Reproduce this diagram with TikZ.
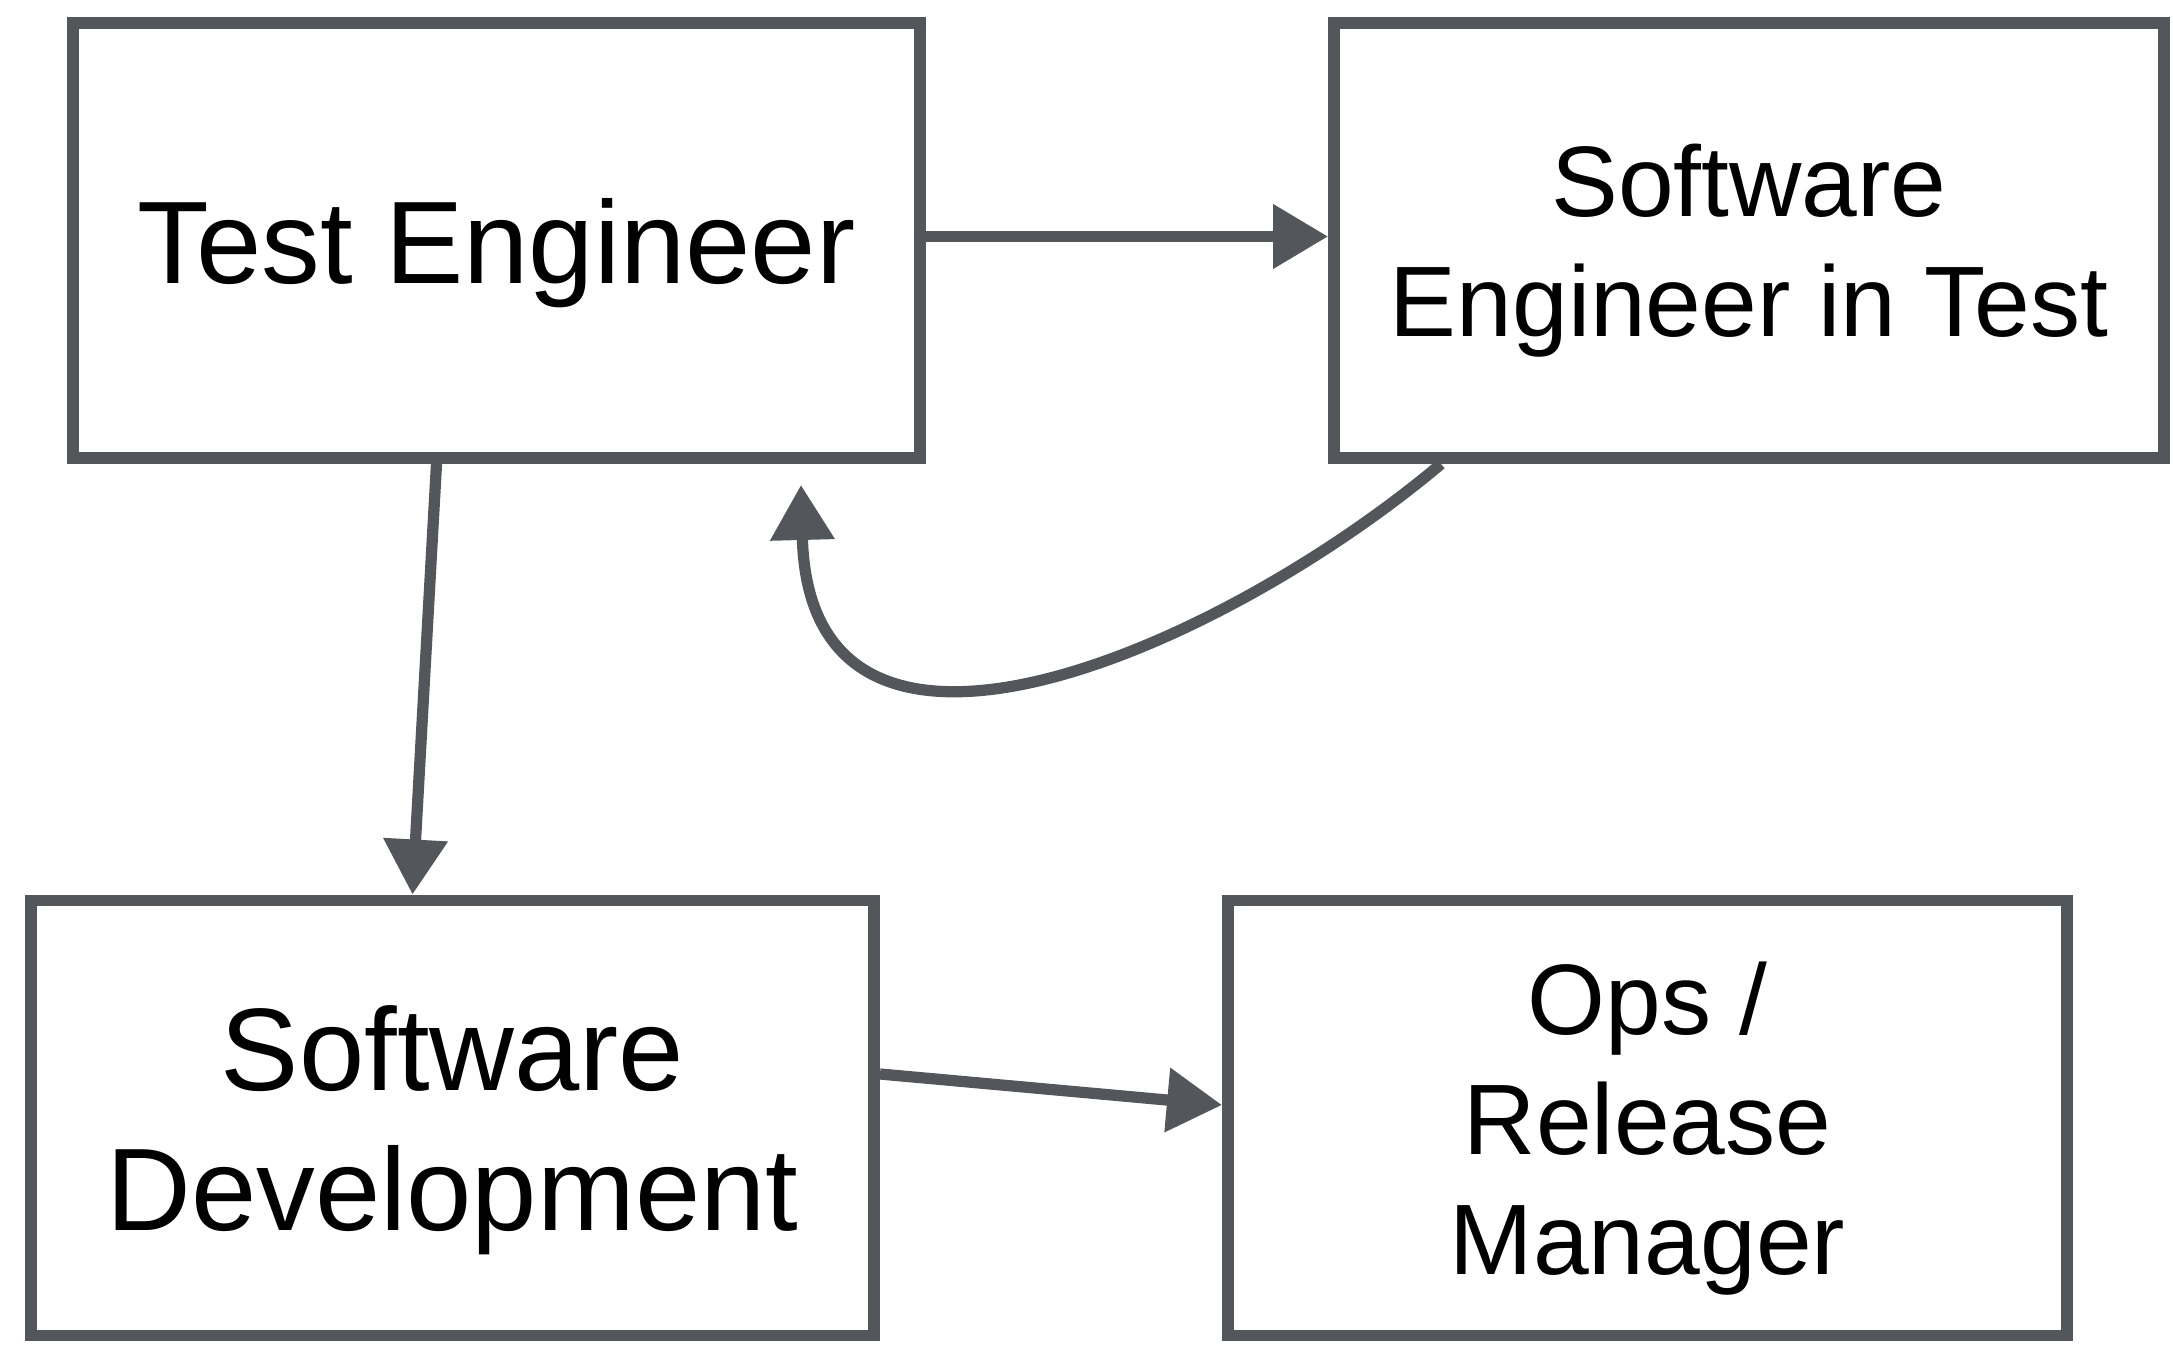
\documentclass[tikz,border=0pt]{standalone}
\usepackage{fontspec}
\setmainfont{Liberation Sans}
\usetikzlibrary{arrows.meta}
\definecolor{sketch}{RGB}{83,87,92}

\begin{document}
\begin{tikzpicture}[
	    role/.style={draw=sketch, line width=3.4pt, fill=white, align=center,
	        font=\fontsize{28.5}{34.2}\selectfont, text depth=0pt, minimum height=4.35cm},
	    big/.style={font=\fontsize{33.4}{40}\selectfont},
	    arr/.style={draw=sketch, line width=3.2pt,
	        -{Triangle[length=0.55cm, width=0.62cm]}}
	    ]
	    \useasboundingbox (0, 0) rectangle (21.73, -13.46);
	    
	    \node[role, big, minimum width=8.47cm] at (4.965, -2.405) (TE) {Test Engineer};
	    \node[role, minimum width=8.30cm] at (17.49, -2.405) (SEiT) {Software\\Engineer in Test};
	    \node[role, big, minimum width=8.43cm] at (4.525, -11.18) (SD) {Software\\Development};
	    \node[role, minimum width=8.39cm] at (16.475, -11.18) (Ops) {Ops /\\Release\\Manager};
	    
	    \draw[arr] ([yshift=0.04cm]TE.east) -- ([yshift=0.04cm]SEiT.west);
	    \draw[arr] ([xshift=-0.6cm]TE.south) -- ([xshift=-0.4cm]SD.north);
	    \draw[arr] ([xshift=1.13cm]SEiT.south west) .. controls (12.2, -6.5) and (8.1, -8.3) .. ([xshift=-1.25cm, yshift=-0.21cm]TE.south east);
	    \draw[arr] ([yshift=0.44cm]SD.east) -- ([yshift=0.13cm]Ops.west);
	    
	    \end{tikzpicture}
\end{document}
